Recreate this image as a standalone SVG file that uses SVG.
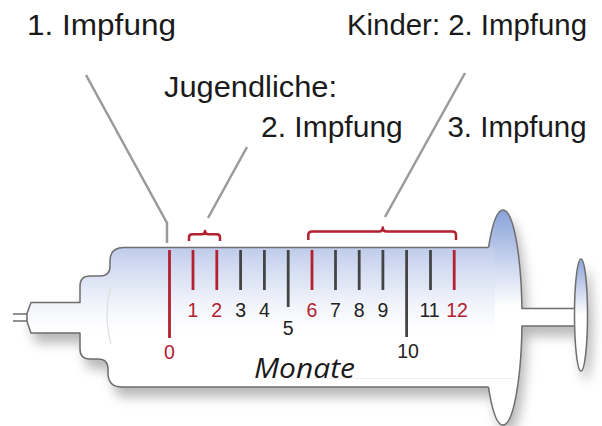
<svg xmlns="http://www.w3.org/2000/svg" width="602" height="426" viewBox="0 0 602 426">
  <defs>
    <linearGradient id="barrelGrad" x1="0" y1="0" x2="0" y2="1">
      <stop offset="0" stop-color="#bfcbeb"/>
      <stop offset="0.15" stop-color="#d3dcf1"/>
      <stop offset="0.42" stop-color="#f3f5fb"/>
      <stop offset="0.6" stop-color="#ffffff"/>
    </linearGradient>
    <linearGradient id="flangeGrad" x1="0" y1="0" x2="0" y2="1">
      <stop offset="0" stop-color="#88a2d9"/>
      <stop offset="0.22" stop-color="#c3cfec"/>
      <stop offset="0.45" stop-color="#ffffff"/>
    </linearGradient>
    <linearGradient id="thumbGrad" x1="0" y1="0" x2="0" y2="1">
      <stop offset="0" stop-color="#8ca4da"/>
      <stop offset="0.5" stop-color="#ffffff"/>
    </linearGradient>
    <filter id="shadow" x="-10%" y="-20%" width="130%" height="150%">
      <feGaussianBlur in="SourceAlpha" stdDeviation="6"/>
      <feOffset dx="5" dy="10" result="b"/>
      <feFlood flood-color="#000000" flood-opacity="0.28"/>
      <feComposite in2="b" operator="in"/>
      <feMerge>
        <feMergeNode/>
        <feMergeNode in="SourceGraphic"/>
      </feMerge>
    </filter>
  </defs>
  <style>
    .outline { fill: none; stroke: #6e6e6e; stroke-width: 1.5; stroke-linejoin: round; }
    .lbl { font-family: "Liberation Sans", Arial, sans-serif; font-size: 30px; fill: #1a1a1a; }
    .num { font-family: "Liberation Sans", Arial, sans-serif; font-size: 19.5px; text-anchor: middle; }
    .numr { fill: #b3202f; }
    .numd { fill: #222222; }
    .tick { stroke-width: 2.8; }
    .tr { stroke: #b3202f; }
    .td { stroke: #444444; }
    .brace { fill: none; stroke: #b3202f; stroke-width: 2.5; stroke-linejoin: round; }
    .leader { fill: none; stroke: #9a9a9a; stroke-width: 2.5; }
  </style>

  <rect width="602" height="426" fill="#ffffff"/>

  <g id="syringe">
    <g filter="url(#shadow)">
      <ellipse cx="503" cy="317.5" rx="19" ry="107.5" fill="url(#flangeGrad)"/>
      <path d="M495,247.5 H124 Q110,247.5 110,261 V266 Q110,276 100,276 H90 Q80,276 80,286 V302.5 H31 L27,313.5 V321.5 L31,333 H80 V349 Q80,359 90,359 H98 Q108,359 108,369 V373 Q108,387 122,387 H495 Z" fill="url(#barrelGrad)"/>
      <rect x="518" y="308.5" width="58" height="17.5" fill="#ffffff"/>
      <ellipse cx="581" cy="315" rx="6.5" ry="56" fill="url(#thumbGrad)"/>
    </g>
    <ellipse class="outline" cx="503" cy="317.5" rx="19" ry="107.5"/>
    <path d="M495,247.5 H124 Q110,247.5 110,261 V266 Q110,276 100,276 H90 Q80,276 80,286 V302.5 H31 L27,313.5 V321.5 L31,333 H80 V349 Q80,359 90,359 H98 Q108,359 108,369 V373 Q108,387 122,387 H495 Z" fill="url(#barrelGrad)"/>
    <path class="outline" d="M488.5,247.5 H124 Q110,247.5 110,261 V266 Q110,276 100,276 H90 Q80,276 80,286 V302.5 H31 L27,313.5 V321.5 L31,333 H80 V349 Q80,359 90,359 H98 Q108,359 108,369 V373 Q108,387 122,387 H488.5"/>
    <path class="outline" d="M13,314 H27 M13,321 H27"/>
    <path d="M111,287 Q103,315 111,344" fill="none" stroke="#e0e0e0" stroke-width="1.3"/>
    <line x1="300" y1="378.5" x2="515" y2="378.5" stroke="#f0f0f0" stroke-width="1"/>
    <rect x="518" y="308.5" width="58" height="17.5" fill="#ffffff"/>
    <path class="outline" d="M521.5,308.5 H575 M521.5,326 H575"/>
    <ellipse class="outline" cx="581" cy="315" rx="6.5" ry="56" fill="url(#thumbGrad)"/>
  </g>

  <g id="ticks">
    <line class="tick tr" x1="169.5" y1="250" x2="169.5" y2="338"/>
    <line class="tick tr" x1="193" y1="250" x2="193" y2="290"/>
    <line class="tick tr" x1="216.8" y1="250" x2="216.8" y2="290"/>
    <line class="tick td" x1="240.6" y1="250" x2="240.6" y2="290"/>
    <line class="tick td" x1="264.4" y1="250" x2="264.4" y2="290"/>
    <line class="tick td" x1="288.2" y1="250" x2="288.2" y2="307"/>
    <line class="tick tr" x1="312" y1="250" x2="312" y2="290"/>
    <line class="tick td" x1="335.5" y1="250" x2="335.5" y2="290"/>
    <line class="tick td" x1="359.2" y1="250" x2="359.2" y2="290"/>
    <line class="tick td" x1="382.9" y1="250" x2="382.9" y2="290"/>
    <line class="tick td" x1="406.6" y1="250" x2="406.6" y2="337"/>
    <line class="tick td" x1="430.5" y1="250" x2="430.5" y2="290"/>
    <line class="tick tr" x1="454.2" y1="250" x2="454.2" y2="290"/>
  </g>

  <g id="tick-labels">
    <text class="num numr" x="169.5" y="359">0</text>
    <text class="num numr" x="193" y="317">1</text>
    <text class="num numr" x="216.8" y="317">2</text>
    <text class="num numd" x="240.6" y="317">3</text>
    <text class="num numd" x="264.4" y="317">4</text>
    <text class="num numd" x="288.2" y="335">5</text>
    <text class="num numr" x="312" y="317">6</text>
    <text class="num numd" x="335.5" y="317">7</text>
    <text class="num numd" x="359.2" y="317">8</text>
    <text class="num numd" x="382.9" y="317">9</text>
    <text class="num numd" x="408" y="358">10</text>
    <text class="num numd" x="429.5" y="317">11</text>
    <text class="num numr" x="457" y="317">12</text>
    <text x="254" y="377.5" font-family="'Open Sans', 'DejaVu Sans', sans-serif" font-style="italic" font-size="28" fill="#1a1a1a" textLength="101" lengthAdjust="spacingAndGlyphs">Monate</text>
  </g>

  <g id="brackets">
    <path class="brace" d="M189,241 V237.5 Q189,234.3 192.5,234.3 H201.5 Q205,234.3 205,231 Q205,234.3 208.5,234.3 H216.5 Q220,234.3 220,237.5 V241"/>
    <path class="brace" d="M308.3,240 V235 Q308.3,231.5 312,231.5 H379 Q382.8,231.5 382.8,227.5 Q382.8,231.5 386.6,231.5 H452.5 Q456,231.5 456,235 V240"/>
  </g>

  <g id="connectors">
    <polyline class="leader" points="86,75 167,223 167,243"/>
    <line class="leader" x1="247" y1="147" x2="208" y2="218"/>
    <line class="leader" x1="465" y1="73" x2="385" y2="217"/>
  </g>

  <g id="node-impfung-1">
    <text class="lbl" x="27" y="35" textLength="149" lengthAdjust="spacingAndGlyphs">1. Impfung</text>
  </g>
  <g id="node-jugendliche">
    <text class="lbl" x="164" y="97" textLength="173" lengthAdjust="spacingAndGlyphs">Jugendliche:</text>
    <text class="lbl" x="261" y="137">2. Impfung</text>
  </g>
  <g id="node-kinder">
    <text class="lbl" x="347" y="35" textLength="240" lengthAdjust="spacingAndGlyphs">Kinder: 2. Impfung</text>
  </g>
  <g id="node-impfung-3">
    <text class="lbl" x="447.5" y="137" textLength="139" lengthAdjust="spacingAndGlyphs">3. Impfung</text>
  </g>
</svg>
